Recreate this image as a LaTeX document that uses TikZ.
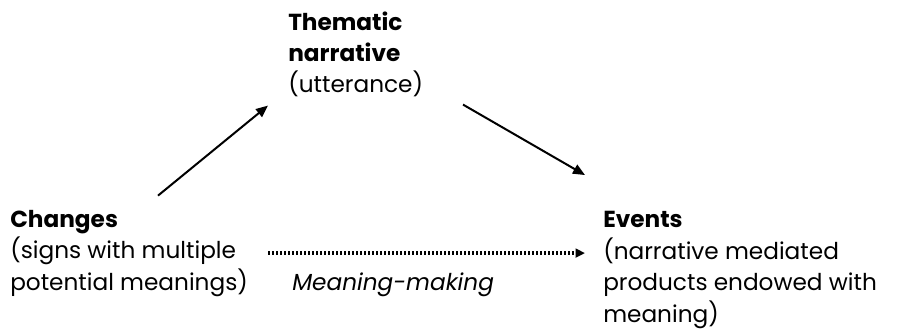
\documentclass[tikz,border=0pt]{standalone}
\usepackage{fontspec}
\setmainfont{Poppins}
\usetikzlibrary{arrows.meta,positioning,calc}

\begin{document}
\begin{tikzpicture}[
  x=0.75pt,y=-0.75pt,
  txt/.style={align=left, inner sep=0pt, anchor=base west, font=\fontsize{17.4}{23.6}\selectfont},
  arr/.style={-{Triangle[length=9pt,width=7.5pt]}, line width=1.5pt},
  dotarr/.style={-{Triangle[length=7pt,width=6.5pt]}, line width=2.4pt, dash pattern=on 1.6pt off 1.4pt}
]
\useasboundingbox (0,0) rectangle (898,331);
% last baselines of each text block
\node[txt] (thematic) at (288,93) {\textbf{Thematic}\\\textbf{narrative}\\(utterance)};
\node[txt] (changes) at (10,290) {\textbf{Changes}\\(signs with multiple\\potential meanings)};
\node[txt] (events) at (603,322) {\textbf{Events}\\(narrative mediated\\products endowed with\\meaning)};
\node[txt] (making) at (292,290) {\textit{Meaning-making}};
\draw[arr] ([shift={(148,-14)}]changes.north west) -- ([shift={(-20,8)}]thematic.south west);
\draw[arr] ([shift={(175,7)}]thematic.south west) -- ([shift={(-18,-36)}]events.north west);
\draw[dotarr] ([shift={(20,0)}]changes.east) -- ([shift={(-18,0)}]changes.east -| events.west);
\end{tikzpicture}
\end{document}
